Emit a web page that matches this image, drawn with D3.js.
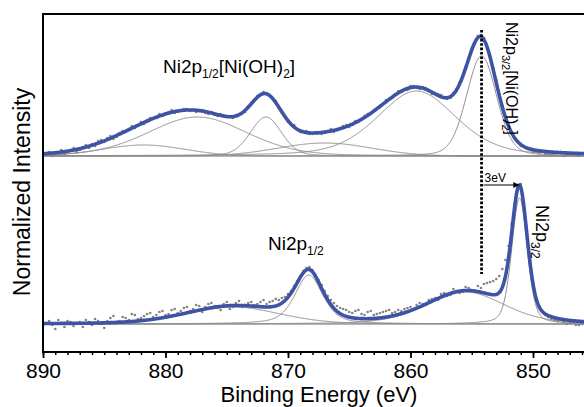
<!DOCTYPE html>
<html><head><meta charset="utf-8">
<script src="https://cdn.jsdelivr.net/npm/d3@7"></script>
<style>
body{margin:0;background:#fff;}
svg{display:block;font-family:"Liberation Sans",Arial,Helvetica,sans-serif;}
</style>
</head><body>
<svg id="chart" width="584" height="407"></svg>
<script>
// ---- data ----
const energies = [890, 889.75, 889.5, 889.25, 889, 888.75, 888.5, 888.25, 888, 887.75,
  887.5, 887.25, 887, 886.75, 886.5, 886.25, 886, 885.75, 885.5, 885.25,
  885, 884.75, 884.5, 884.25, 884, 883.75, 883.5, 883.25, 883, 882.75,
  882.5, 882.25, 882, 881.75, 881.5, 881.25, 881, 880.75, 880.5, 880.25,
  880, 879.75, 879.5, 879.25, 879, 878.75, 878.5, 878.25, 878, 877.75,
  877.5, 877.25, 877, 876.75, 876.5, 876.25, 876, 875.75, 875.5, 875.25,
  875, 874.75, 874.5, 874.25, 874, 873.75, 873.5, 873.25, 873, 872.75,
  872.5, 872.25, 872, 871.75, 871.5, 871.25, 871, 870.75, 870.5, 870.25,
  870, 869.75, 869.5, 869.25, 869, 868.75, 868.5, 868.25, 868, 867.75,
  867.5, 867.25, 867, 866.75, 866.5, 866.25, 866, 865.75, 865.5, 865.25,
  865, 864.75, 864.5, 864.25, 864, 863.75, 863.5, 863.25, 863, 862.75,
  862.5, 862.25, 862, 861.75, 861.5, 861.25, 861, 860.75, 860.5, 860.25,
  860, 859.75, 859.5, 859.25, 859, 858.75, 858.5, 858.25, 858, 857.75,
  857.5, 857.25, 857, 856.75, 856.5, 856.25, 856, 855.75, 855.5, 855.25,
  855, 854.75, 854.5, 854.25, 854, 853.75, 853.5, 853.25, 853, 852.75,
  852.5, 852.25, 852, 851.75, 851.5, 851.25, 851, 850.75, 850.5, 850.25,
  850, 849.75, 849.5, 849.25, 849, 848.75, 848.5, 848.25, 848, 847.75,
  847.5, 847.25, 847, 846.75, 846.5, 846.25, 846, 845.75, 845.5, 845.25, 845];

// measured intensity (a.u.), upper spectrum Ni(OH)2
const hydroxideCounts = [1, 3, 4, 0, 2, 3, 6, 2, 4, 5, 8, 4, 6, 9, 11, 8, 12, 10, 15, 16,
  14, 18, 20, 17, 19, 23, 25, 24, 27, 30, 28, 31, 34, 32, 36, 38, 37, 38, 42, 40,
  43, 44, 46, 43, 44, 45, 47, 47, 45, 46, 44, 45, 46, 43, 42, 44, 41, 40, 42, 41,
  40, 39, 38, 41, 42, 42, 44, 50, 53, 56, 60, 62, 64, 62, 61, 58, 55, 48, 45, 40,
  34, 31, 31, 26, 24, 25, 25, 22, 22, 24, 24, 22, 23, 25, 27, 24, 26, 28, 30, 31,
  29, 31, 35, 34, 36, 40, 42, 42, 46, 48, 50, 52, 56, 57, 58, 62, 65, 64, 67, 66,
  70, 70, 68, 67, 69, 68, 66, 62, 63, 62, 61, 58, 57, 58, 63, 65, 73, 80, 89, 96,
  108, 112, 120, 121, 118, 110, 100, 88, 76, 62, 50, 40, 31, 23, 17, 14, 10, 9, 7, 6,
  4, 4, 3, 5, 2, 2, 1, 2, 3, 4, 0, 1, 2, 2, 1, 0, 3, 3, 1, 1, 2];

// measured intensity (a.u.), lower spectrum Ni
const metalCounts = [-2, 1, 3, -1, -5, 4, 1, -3, 3, 2, -2, 0, 2, -3, 4, 2, -1, 5, 3, 0,
  -4, 3, 6, 8, 2, 3, 7, 6, 4, 10, 9, 5, 6, 8, 10, 11, 7, 9, 12, 13,
  9, 10, 14, 15, 11, 13, 16, 17, 13, 15, 19, 18, 12, 17, 20, 21, 18, 16, 14, 20,
  22, 15, 17, 21, 23, 17, 19, 21, 22, 19, 20, 22, 24, 20, 22, 23, 25, 24, 26, 27,
  30, 33, 38, 43, 48, 53, 56, 57, 54, 49, 44, 39, 33, 28, 24, 21, 18, 16, 15, 14,
  12, 11, 13, 14, 10, 9, 12, 13, 9, 10, 11, 12, 13, 14, 11, 12, 14, 13, 15, 16,
  17, 15, 19, 21, 20, 19, 24, 25, 26, 24, 30, 31, 28, 29, 35, 33, 31, 32, 37, 36,
  34, 33, 38, 36, 40, 41, 42, 43, 45, 48, 55, 64, 78, 100, 120, 136, 140, 120, 92, 64,
  42, 26, 16, 12, 9, 7, 5, 4, 3, 4, 2, 0, 1, 2, -1, -1, 0, 1, -2, -1, 1];

// fitted peak components (center eV, height a.u., FWHM eV, Lorentzian fraction)
const hydroxideCenters = [854.2, 859.5, 871.8, 877.4, 881.8, 867.0];
const hydroxideHeights = [100, 65, 39, 39, 11, 13];
const hydroxideFwhm    = [2.9, 7.6, 3.0, 9.5, 8.0, 9.0];
const hydroxideLorentz = [0.2, 0.35, 0.2, 0.2, 0, 0];

const metalCenters = [851.1, 855.5, 868.3, 874.5];
const metalHeights = [126, 32, 49, 17];
const metalFwhm    = [1.5, 7.5, 2.7, 9.0];
const metalLorentz = [0.3, 0.3, 0.5, 0.2];

const stackOffset = 168;           // vertical offset of upper spectrum
const xTickValues = [890, 880, 870, 860, 850];
const xDomain = [890, 845];
const shiftFrom = 854.2, shiftTo = 851.2;   // "3eV" annotation

// ---- drawing ----
const svg = d3.select("#chart");
const plotLeft = 43, plotTop = 14, plotBottom = 352, pxPerEv = 12.25;
const x = d3.scaleLinear().domain(xDomain).range([plotLeft, plotLeft + (xDomain[0] - xDomain[1]) * pxPerEv]);
const y = d3.scaleLinear().domain([-28, 310]).range([plotBottom, plotTop]);

function pv(E, c, h, w, m) {
  const r = (E - c) * (E - c) / (w * w);
  return h * ((1 - m) * Math.exp(-4 * Math.LN2 * r) + m / (1 + 4 * r));
}
const grid = d3.range(0, 901).map(i => 890 - i * 0.05);

svg.append("clipPath").attr("id", "clip").append("rect")
  .attr("x", plotLeft).attr("y", plotTop).attr("width", x(845) - plotLeft).attr("height", plotBottom - plotTop);
const plot = svg.append("g").attr("clip-path", "url(#clip)");

function drawSpectrum(centers, heights, fwhm, lor, counts, offset) {
  plot.append("line").attr("x1", x(890)).attr("x2", x(845))
    .attr("y1", y(offset)).attr("y2", y(offset))
    .attr("stroke", "#9a9a9a").attr("stroke-width", 1.2);
  const comp = (E, k) => pv(E, centers[k], heights[k], fwhm[k], lor[k]);
  centers.forEach((c, k) => {
    plot.append("path")
      .attr("d", d3.line().x(E => x(E)).y(E => y(offset + comp(E, k)))(grid))
      .attr("fill", "none").attr("stroke", "#8e8e8e").attr("stroke-width", 1);
  });
  plot.append("g").selectAll("circle").data(energies).join("circle")
    .attr("cx", (E) => x(E)).attr("cy", (E, i) => y(offset + counts[i]))
    .attr("r", 1.35).attr("fill", "#858585");
  plot.append("path")
    .attr("d", d3.line().x(E => x(E)).y(E => y(offset + d3.sum(centers, (c, k) => comp(E, k))))(grid))
    .attr("fill", "none").attr("stroke", "#3c53a6").attr("stroke-width", 3.6)
    .attr("stroke-linejoin", "round");
}
drawSpectrum(hydroxideCenters, hydroxideHeights, hydroxideFwhm, hydroxideLorentz, hydroxideCounts, stackOffset);
drawSpectrum(metalCenters, metalHeights, metalFwhm, metalLorentz, metalCounts, 0);

// frame
svg.append("rect").attr("x", plotLeft).attr("y", plotTop)
  .attr("width", x(845) - plotLeft).attr("height", plotBottom - plotTop)
  .attr("fill", "none").attr("stroke", "#000").attr("stroke-width", 2);

// axes
const minor = svg.append("g").attr("transform", `translate(0,${plotBottom})`)
  .call(d3.axisBottom(x).tickValues(d3.range(845, 891, 1)).tickSize(3).tickFormat(""));
minor.select(".domain").remove();
minor.selectAll("line").attr("stroke-width", 1.5);
const major = svg.append("g").attr("transform", `translate(0,${plotBottom})`)
  .call(d3.axisBottom(x).tickValues(xTickValues).tickSize(6).tickFormat(d3.format("d")));
major.select(".domain").remove();
major.selectAll("line").attr("stroke-width", 1.8);
major.selectAll("text").attr("y", 26).attr("dy", 0)
  .attr("font-size", 21).attr("font-family", "Liberation Sans, Arial, sans-serif").attr("fill", "#000");

// axis titles
svg.append("text").attr("x", 319).attr("y", 402).attr("text-anchor", "middle")
  .attr("font-size", 22).text("Binding Energy (eV)");
svg.append("text").attr("transform", "translate(30,192) rotate(-90)")
  .attr("text-anchor", "middle").attr("font-size", 23).text("Normalized Intensity");

// labels with subscripts
function label(g, parts, big, small, shift) {
  const t = g.append("text");
  let down = false;
  parts.forEach(([s, sub]) => {
    const ts = t.append("tspan").text(s).attr("font-size", sub ? small : big);
    if (sub && !down) { ts.attr("dy", shift); down = true; }
    else if (!sub && down) { ts.attr("dy", -shift); down = false; }
  });
  return t;
}
label(svg.append("g").attr("transform", "translate(163,73)"),
  [["Ni2p"], ["1/2", 1], ["[Ni(OH)"], ["2", 1], ["]"]], 19, 12, 5);
label(svg.append("g").attr("transform", "translate(268,250)"),
  [["Ni2p"], ["1/2", 1]], 19, 12, 5);
label(svg.append("g").attr("transform", "translate(506,22) rotate(90)"),
  [["Ni2p"], ["3/2", 1], ["[Ni(OH)"], ["2", 1], ["]"]], 16, 11, 4);
label(svg.append("g").attr("transform", "translate(536,205) rotate(90)"),
  [["Ni2p"], ["3/2", 1]], 18, 12, 5);

// shift annotation
svg.append("line").attr("x1", x(shiftFrom)).attr("x2", x(shiftFrom))
  .attr("y1", 30).attr("y2", 274)
  .attr("stroke", "#000").attr("stroke-width", 2.8).attr("stroke-dasharray", "2.6 1.8");
svg.append("defs").append("marker").attr("id", "arr").attr("viewBox", "0 0 10 10")
  .attr("refX", 10).attr("refY", 5).attr("markerWidth", 7).attr("markerHeight", 6)
  .attr("markerUnits", "userSpaceOnUse").attr("orient", "auto")
  .append("path").attr("d", "M0,0L10,5L0,10Z").attr("fill", "#000");
svg.append("line").attr("x1", x(shiftFrom) + 2).attr("x2", x(shiftTo) + 1)
  .attr("y1", 185).attr("y2", 185).attr("stroke", "#000").attr("stroke-width", 1)
  .attr("marker-end", "url(#arr)");
svg.append("text").attr("x", x(shiftFrom) + 3).attr("y", 182).attr("font-size", 12).text("3eV");
</script>
</body></html>
